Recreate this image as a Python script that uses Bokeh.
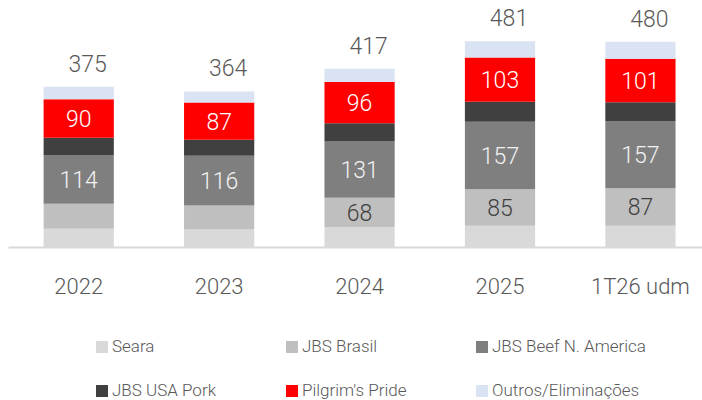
from bokeh.plotting import figure
from bokeh.layouts import column
from bokeh.models import Range1d, FixedTicker, Legend, LegendItem, ColumnDataSource
from bokeh.core.properties import value
from bokeh.embed import file_html
from bokeh.resources import INLINE

categories = ["2022", "2023", "2024", "2025", "1T26 udm"]
seara = [44, 42, 48, 51, 51]
jbs_brasil = [58, 56, 68, 85, 87]
beef_na = [114, 116, 131, 157, 157]
usa_pork = [40, 37, 43, 47, 44]
pilgrims = [90, 87, 96, 103, 101]
outros = [29, 26, 31, 38, 40]
totals = [375, 364, 417, 481, 480]
brasil_labels = ["", "", "68", "85", "87"]

series = ["Seara", "JBS Brasil", "JBS Beef N. America", "JBS USA Pork", "Pilgrim's Pride", "Outros/Eliminações"]
colors = ["#d9d9d9", "#bfbfbf", "#7f7f7f", "#404040", "#ff0000", "#dae3f3"]
FONT = "Roboto Light"

x = list(range(len(categories)))
src = ColumnDataSource(dict(x=x, s0=seara, s1=jbs_brasil, s2=beef_na, s3=usa_pork, s4=pilgrims, s5=outros))
keys = ["s0", "s1", "s2", "s3", "s4", "s5"]

p = figure(width=702, height=305, output_backend="svg", toolbar_location=None,
           x_range=Range1d(-0.5, 4.442), y_range=Range1d(0, 576),
           min_border_left=8, min_border_right=0, min_border_top=0, min_border_bottom=58)
p.outline_line_color = None
p.grid.visible = False
p.yaxis.visible = False

renderers = p.vbar_stack(keys, x="x", width=0.5, color=colors, source=src, line_width=0)

b_mid = [s + b / 2 for s, b in zip(seara, jbs_brasil)]
beef_mid = [s + b + c / 2 for s, b, c in zip(seara, jbs_brasil, beef_na)]
ppc_mid = [s + b + c + d + e / 2 for s, b, c, d, e in zip(seara, jbs_brasil, beef_na, usa_pork, pilgrims)]

common = dict(text_font=value(FONT), text_font_size="23px", text_align="center", text_baseline="middle")
p.text(x=x, y=b_mid, text=brasil_labels, text_color="#404040", **common)
p.text(x=x, y=beef_mid, text=[str(v) for v in beef_na], text_color="#f2f2f2", **common)
p.text(x=x, y=ppc_mid, text=[str(v) for v in pilgrims], text_color="#ffffff", **common)
p.text(x=x, y=totals, text=[str(v) for v in totals], text_color="#595959", x_offset=9, y_offset=-15,
       text_font=value(FONT), text_font_size="23px", text_align="center", text_baseline="bottom")

ax = p.xaxis[0]
ax.ticker = FixedTicker(ticks=x)
ax.major_label_overrides = {i: c for i, c in zip(x, categories)}
ax.major_label_text_font = FONT
ax.major_label_text_font_size = "22px"
ax.major_label_text_color = "#595959"
ax.major_tick_line_color = None
ax.minor_tick_line_color = None
ax.major_tick_out = 0
ax.major_tick_in = 0
ax.axis_line_color = "#d9d9d9"
ax.axis_line_width = 2
ax.major_label_standoff = 26

# legend panel (separate figure so the legend is not clipped by the chart frame)
lg = figure(width=702, height=95, output_backend="svg", toolbar_location=None,
            x_range=Range1d(0, 1), y_range=Range1d(0, 1),
            min_border_left=0, min_border_right=0, min_border_top=0, min_border_bottom=0)
lg.outline_line_color = None
lg.grid.visible = False
lg.axis.visible = False
# placeholder glyphs (outside the visible range) that only carry the legend swatch colours
lg_src = ColumnDataSource(dict(x=[-5], top=[0]))
lg_renderers = [lg.vbar(x="x", top="top", width=0.1, color=c, line_width=0, source=lg_src) for c in colors]

items = [LegendItem(label=n, renderers=[r]) for n, r in zip(series, lg_renderers)]
legend = Legend(items=items, orientation="horizontal", ncols=3, location=(86, 0),
                glyph_width=15, glyph_height=15, label_standoff=3, label_width=148, label_height=15,
                spacing=24, padding=0, margin=0,
                label_text_font=FONT, label_text_font_size="17px", label_text_color="#595959",
                border_line_color=None, background_fill_alpha=0)
lg.add_layout(legend, "center")

layout = column(p, lg, spacing=0)
open("out.html", "w").write(file_html(layout, INLINE))
